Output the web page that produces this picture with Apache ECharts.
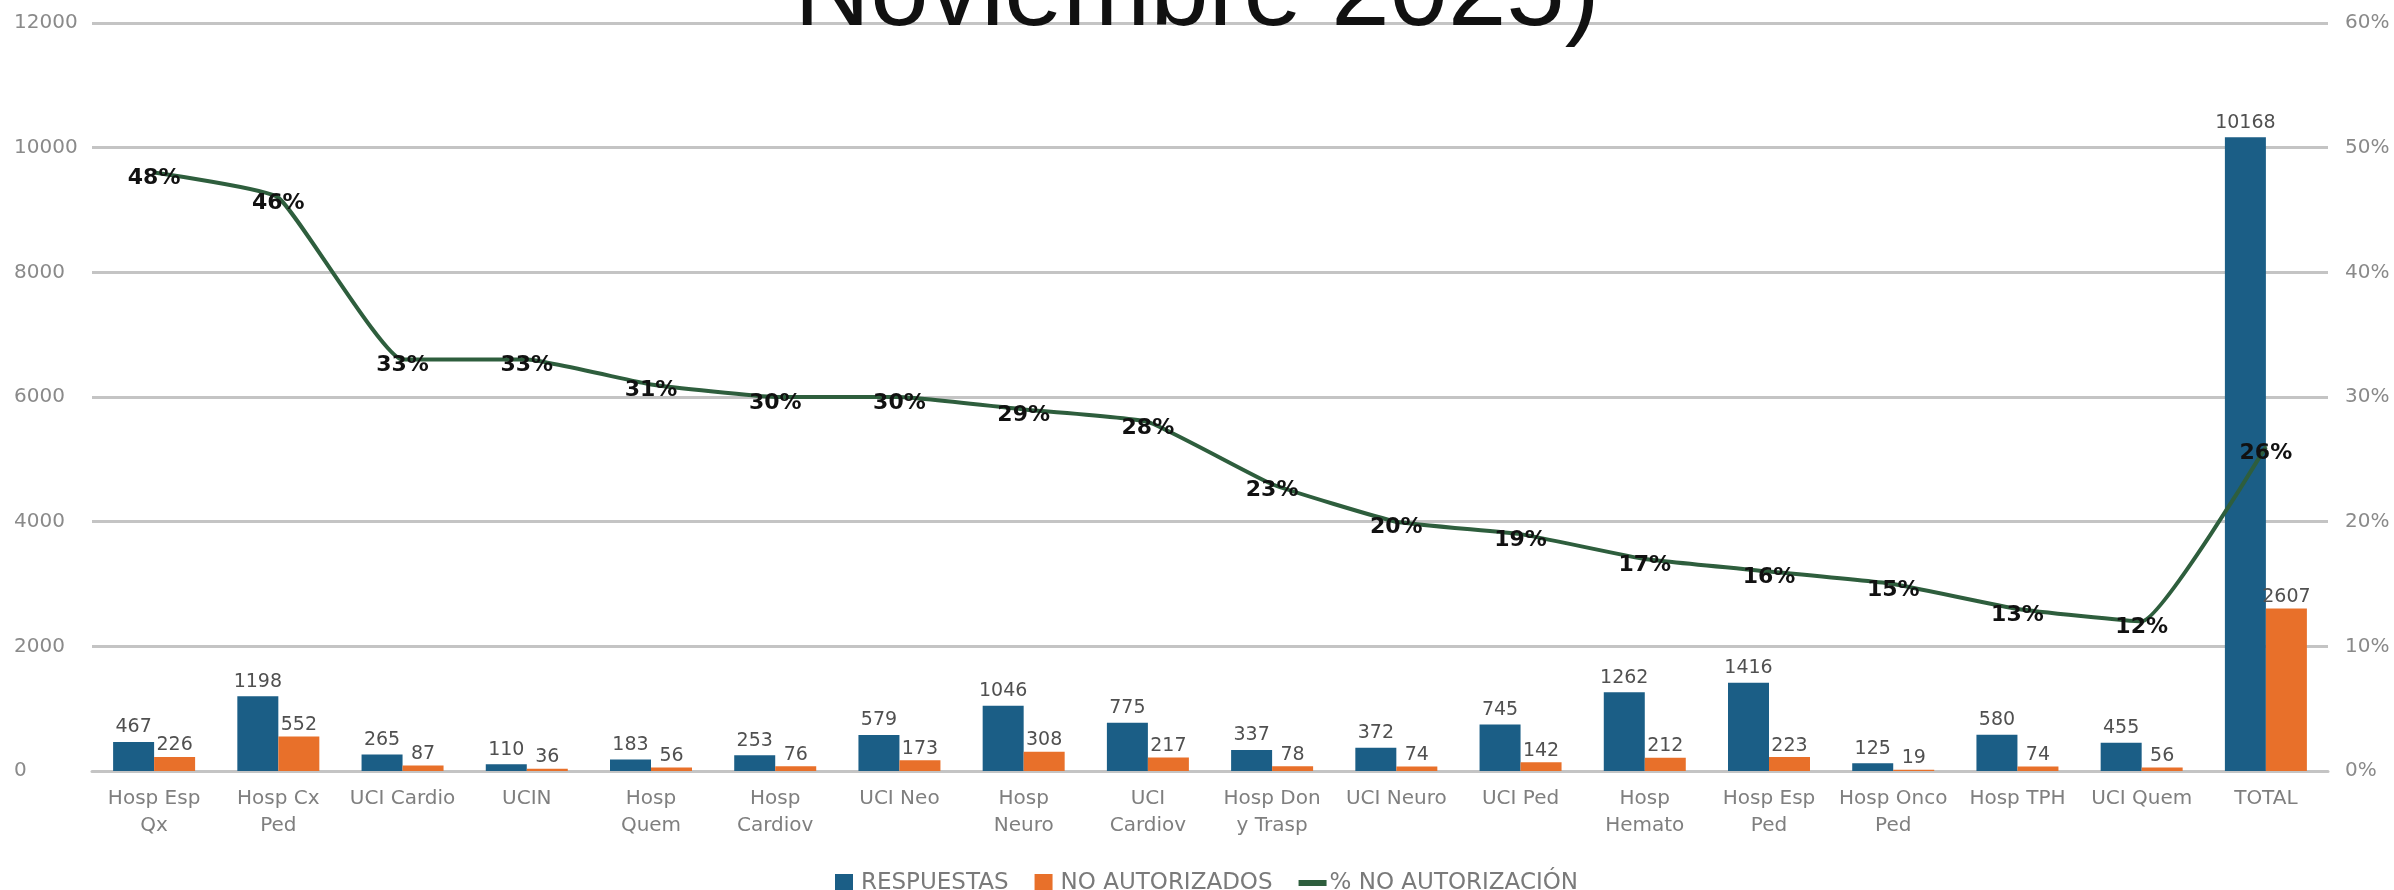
<!DOCTYPE html>
<html>
<head>
<meta charset="utf-8">
<script src="https://cdn.jsdelivr.net/npm/echarts@6/dist/echarts.min.js"></script>
<style>
html,body{margin:0;padding:0;background:#fff;}
#chart{width:2394px;height:890px;}
</style>
</head>
<body>
<div id="chart"></div>
<script>
const titleText = 'Noviembre 2025)';
const categories = ['Hosp Esp\nQx','Hosp Cx\nPed','UCI Cardio','UCIN','Hosp\nQuem','Hosp\nCardiov','UCI Neo','Hosp\nNeuro','UCI\nCardiov','Hosp Don\ny Trasp','UCI Neuro','UCI Ped','Hosp\nHemato','Hosp Esp\nPed','Hosp Onco\nPed','Hosp TPH','UCI Quem','TOTAL'];
const respuestas = [467,1198,265,110,183,253,579,1046,775,337,372,745,1262,1416,125,580,455,10168];
const noAutorizados = [226,552,87,36,56,76,173,308,217,78,74,142,212,223,19,74,56,2607];
const pctNoAutorizacion = [0.48,0.46,0.33,0.33,0.31,0.30,0.30,0.29,0.28,0.23,0.20,0.19,0.17,0.16,0.15,0.13,0.12,0.26];
const seriesNames = ['RESPUESTAS','NO AUTORIZADOS','% NO AUTORIZACIÓN'];

const FONT = 'DejaVu Sans';
const chart = echarts.init(document.getElementById('chart'));
chart.setOption({
  animation: false,
  backgroundColor: '#ffffff',
  title: {
    text: titleText,
    left: 'center',
    top: -61,
    textStyle: {fontFamily: 'Liberation Sans', fontSize: 105, fontWeight: 'normal', color: '#111', lineHeight: 105}
  },
  legend: {
    left: 830,
    top: 866,
    itemWidth: 28,
    itemHeight: 18,
    itemGap: 26,
    textStyle: {fontFamily: FONT, fontSize: 23, color: '#7a7a7a', lineHeight: 24, padding: [0,0,0,-2]},
    data: [
      {name: seriesNames[0], icon: 'path://M0,0h18v18h-18z'},
      {name: seriesNames[1], icon: 'path://M0,0h18v18h-18z'},
      {name: seriesNames[2], icon: 'path://M0,0h28v6h-28z'}
    ]
  },
  grid: {left: 92, right: 66, top: 23, bottom: 119, containLabel: false},
  xAxis: {
    type: 'category',
    data: categories,
    axisLine: {show: true, lineStyle: {color: '#c4c4c4', width: 3}},
    axisTick: {show: false},
    axisLabel: {interval: 0, fontFamily: FONT, fontSize: 20, color: '#7f7f7f', lineHeight: 27, margin: 14}
  },
  yAxis: [
    {
      type: 'value', min: 0, max: 12000, interval: 2000,
      axisLine: {show: false}, axisTick: {show: false},
      splitLine: {lineStyle: {color: '#c4c4c4', width: 3}},
      axisLabel: {fontFamily: FONT, fontSize: 20, color: '#8a8a8a', align: 'left', margin: 78,
        formatter: v => String(v)}
    },
    {
      type: 'value', min: 0, max: 0.6, interval: 0.1, position: 'right',
      axisLine: {show: false}, axisTick: {show: false}, splitLine: {show: false},
      axisLabel: {fontFamily: FONT, fontSize: 20, color: '#8a8a8a', margin: 17,
        formatter: v => Math.round(v * 100) + '%'}
    }
  ],
  series: [
    {
      name: seriesNames[0], type: 'bar', data: respuestas, yAxisIndex: 0,
      barWidth: 41, barGap: '0%',
      itemStyle: {color: '#1b5e86'},
      label: {show: true, position: 'top', distance: 5, fontFamily: FONT, fontSize: 19, color: '#505050'}
    },
    {
      name: seriesNames[1], type: 'bar', data: noAutorizados, yAxisIndex: 0,
      barWidth: 41, barGap: '0%',
      itemStyle: {color: '#e8702a'},
      label: {show: true, position: 'top', distance: 2, fontFamily: FONT, fontSize: 19, color: '#505050'}
    },
    {
      name: seriesNames[2], type: 'line', data: pctNoAutorizacion, yAxisIndex: 1,
      smooth: 0.12, symbol: 'circle', symbolSize: 2,
      lineStyle: {color: '#2e5e3d', width: 4},
      itemStyle: {color: '#2e5e3d'},
      z: 5,
      label: {show: true, position: 'inside', offset: [0, 6], fontFamily: FONT, fontSize: 22, fontWeight: 'bold', color: '#111',
        formatter: p => Math.round(p.value * 100) + '%'}
    }
  ]
});
</script>
</body>
</html>
